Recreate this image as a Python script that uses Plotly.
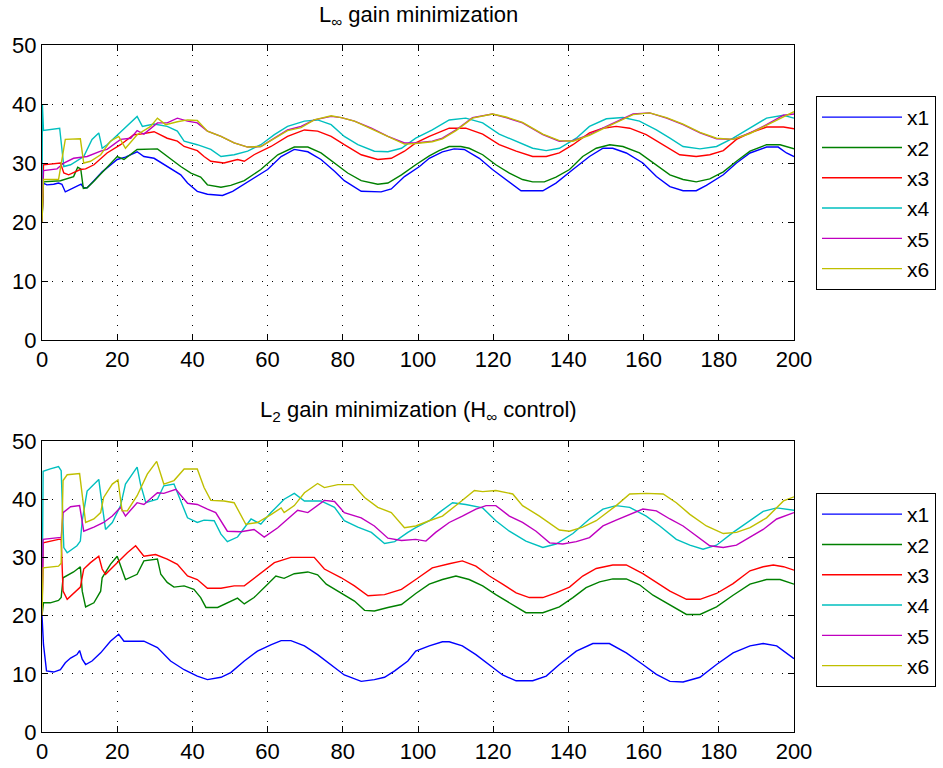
import plotly.graph_objects as go

names = ["x1", "x2", "x3", "x4", "x5", "x6"]
colors = ["#0000ff", "#008000", "#ff0000", "#00bfbf", "#bf00bf", "#bfbf00"]

# ---------- top panel: L_inf gain minimization ----------
t_top_x1 = [0, 0.3, 1.3, 3.1, 4.4, 5.3, 6.2, 7.6, 9.3, 10.4, 11.1, 12, 13.8, 16, 20, 22.2, 25.3, 27.1, 29.8, 33.3, 36.9, 38.7, 41.3, 44, 48, 50.7, 54.7, 60, 63.6, 67.1, 70.7, 74.2, 77.8, 80.4, 84.9, 90.2, 92.9, 96.4, 100.4, 103, 106.5, 109.6, 112.3, 116.3, 119.8, 123.4, 127.4, 133.2, 136.7, 141.2, 145.6, 149.2, 151.8, 155.4, 159.8, 163.4, 167, 170.5, 174, 176.7, 181.2, 184.7, 188.3, 192.7, 195.8, 198, 200]
v_top_x1 = [20, 26.6, 26.3, 26.4, 26.6, 26.4, 25.1, 25.5, 26.0, 26.4, 25.8, 25.8, 27.0, 28.5, 30.6, 31.0, 31.9, 31.1, 30.8, 29.4, 28.0, 26.6, 25.2, 24.7, 24.5, 25.2, 26.8, 28.9, 31.1, 32.3, 31.9, 30.6, 28.6, 27.0, 25.2, 25.1, 25.6, 27.7, 29.4, 30.8, 31.9, 32.4, 32.3, 30.8, 28.9, 27.2, 25.3, 25.3, 26.6, 28.9, 31.1, 32.5, 32.5, 31.7, 30.0, 27.7, 26.0, 25.3, 25.3, 26.2, 28.0, 30.0, 31.7, 32.7, 32.7, 31.7, 31.1]

t_top_x2 = [0, 0.4, 4.9, 8.4, 9.5, 10.3, 11, 12, 13.8, 16.4, 20, 21.8, 25.3, 30.7, 33.3, 36.9, 39.6, 42.2, 44, 47.6, 50.2, 53.8, 58.2, 62.7, 67.1, 70.7, 74.2, 77.8, 81.3, 84.9, 89.3, 92, 95.6, 99.4, 103, 105.6, 108.3, 111.4, 113.6, 117.2, 120.7, 124.3, 127.8, 130.5, 133.6, 136.7, 140.3, 143.8, 147.4, 151, 154.5, 158.9, 163.4, 167, 170.5, 174, 177.6, 181.2, 184.7, 188.3, 192.7, 196.3, 200]
v_top_x2 = [20, 26.8, 27.0, 27.7, 29.3, 29.0, 25.7, 25.8, 26.9, 28.6, 31.1, 30.6, 32.3, 32.4, 31.1, 29.4, 28.3, 27.6, 26.3, 25.9, 26.2, 27.0, 28.9, 31.4, 32.7, 32.7, 31.7, 30.0, 28.3, 27.0, 26.4, 26.6, 28.0, 29.7, 31.2, 32.1, 32.8, 32.8, 32.5, 31.4, 29.7, 28.3, 27.2, 26.8, 26.8, 27.6, 28.9, 31.1, 32.5, 33.1, 32.8, 31.7, 29.7, 28.0, 27.2, 26.8, 27.3, 28.5, 30.3, 32.0, 33.1, 33.1, 32.4]

t_top_x3 = [0, 0.4, 4.9, 5.8, 7.1, 10.2, 11.6, 13.8, 17.3, 20.9, 24.4, 26.2, 29.8, 33.3, 36, 37.8, 41.3, 43.1, 44.9, 48.4, 52, 53.8, 56.4, 60.9, 65.3, 69.8, 73.3, 76.9, 80.4, 84.9, 89.3, 92.9, 96.4, 99.4, 103, 106.5, 108.3, 112.7, 117.2, 121.6, 126.1, 130.5, 134.1, 137.6, 141.2, 145.6, 149.2, 152.7, 156.3, 160.7, 165.2, 169.6, 174, 177.6, 181.2, 184.7, 188.3, 192.7, 197.2, 200]
v_top_x3 = [20, 29.7, 30.0, 28.3, 28.0, 28.9, 29.0, 29.7, 31.7, 33.1, 34.8, 34.9, 35.3, 34.2, 33.7, 32.8, 32.1, 31.1, 30.3, 30.0, 30.6, 30.3, 31.4, 32.8, 34.5, 35.6, 35.4, 34.5, 33.1, 31.4, 30.6, 30.8, 32.0, 33.4, 34.5, 35.4, 35.9, 35.9, 34.9, 33.1, 32.0, 31.1, 31.1, 31.7, 33.1, 35.1, 35.9, 36.2, 35.9, 34.8, 33.1, 31.4, 31.1, 31.4, 32.1, 34.0, 35.1, 36.1, 36.1, 35.8]

t_top_x4 = [0, 0.1, 0.4, 4, 4.7, 5.8, 7.6, 11.1, 13.3, 15.1, 16, 17.3, 20.9, 23.1, 25.3, 26.7, 29.8, 33.3, 36, 37.8, 41.3, 44.9, 47.6, 51.1, 54.7, 58.2, 61.8, 65.3, 69.8, 73.3, 76.9, 80.4, 84, 88.4, 92, 95.6, 99.4, 103.8, 108.3, 112.7, 117.2, 121.6, 126.1, 130.5, 134.1, 137.6, 142.1, 145.6, 150.1, 154.5, 158.9, 163.4, 167, 170.5, 175, 179.4, 183.8, 188.3, 192.7, 197.2, 200]
v_top_x4 = [20, 40.0, 35.5, 35.9, 35.9, 29.4, 29.7, 31.1, 34.0, 35.1, 32.5, 33.1, 35.3, 36.5, 37.9, 36.2, 36.6, 36.2, 35.4, 33.7, 33.1, 32.3, 31.1, 31.4, 32.0, 33.1, 34.8, 36.2, 37.1, 37.3, 36.5, 34.5, 33.1, 32.0, 31.9, 32.5, 34.2, 35.6, 37.3, 37.6, 36.8, 34.9, 33.7, 32.5, 32.1, 32.5, 34.2, 36.2, 37.5, 37.7, 37.1, 35.6, 34.2, 32.8, 32.4, 32.8, 34.2, 35.9, 37.6, 38.1, 37.6]

t_top_x5 = [0, 0.4, 4, 5.8, 8.4, 12, 15.6, 17.3, 20.9, 23.6, 25.3, 27.1, 30.7, 33.3, 36, 38.7, 41.3, 44, 47.6, 51.1, 54.7, 58.2, 61.8, 65.3, 68.9, 72.4, 76.9, 79.6, 83.1, 87.6, 92, 96.4, 99.4, 103.8, 106.5, 110.1, 114.5, 119.8, 123.4, 127.8, 133.2, 137.6, 141.2, 145.6, 150.1, 153.6, 157.2, 161.6, 166.1, 170.5, 175, 179.4, 183.8, 188.3, 192.7, 197.2, 200]
v_top_x5 = [20, 28.7, 29.0, 30.0, 30.8, 31.1, 32.0, 32.3, 34.0, 34.2, 35.5, 34.9, 36.8, 36.8, 37.6, 37.1, 36.8, 35.4, 34.5, 33.4, 32.7, 32.8, 34.2, 35.6, 36.2, 37.3, 37.9, 37.7, 37.1, 35.9, 34.5, 33.4, 33.4, 33.7, 34.2, 35.6, 37.7, 38.3, 37.7, 36.8, 34.8, 33.7, 33.8, 34.8, 36.2, 37.3, 38.3, 38.5, 37.6, 36.5, 35.1, 34.1, 34.0, 35.1, 36.5, 38.1, 38.3]

t_top_x6 = [0, 0.4, 4.4, 5.3, 6.2, 10.2, 11.1, 12.9, 15.6, 18.2, 20.4, 22.2, 25.3, 28.9, 30.7, 32.9, 36, 38.7, 41.3, 44, 47.6, 51.1, 54.7, 58.2, 61.8, 65.3, 68.9, 72.4, 76.9, 79.6, 83.1, 87.6, 92, 96.4, 99.4, 103.8, 106.5, 110.1, 114.5, 119.8, 123.4, 127.8, 133.2, 137.6, 141.2, 145.6, 150.1, 153.6, 157.2, 161.6, 166.1, 170.5, 175, 179.4, 183.8, 188.3, 192.7, 197.2, 200]
v_top_x6 = [20, 27.2, 27.2, 30.6, 34.0, 34.1, 30.0, 30.3, 31.4, 33.7, 34.5, 32.5, 34.8, 36.2, 37.6, 36.5, 37.0, 37.3, 37.2, 35.4, 34.5, 33.4, 32.7, 32.8, 34.2, 35.5, 36.0, 37.3, 38.0, 37.7, 37.1, 35.8, 34.5, 33.2, 33.3, 33.6, 34.1, 35.5, 37.6, 38.3, 37.8, 36.9, 34.9, 33.8, 33.7, 34.7, 36.1, 37.2, 38.2, 38.5, 37.7, 36.6, 35.2, 34.2, 34.0, 35.0, 36.4, 37.8, 38.7]

# ---------- bottom panel: L2 gain minimization (H_inf control) ----------
t_bot_x1 = [0, 0.4, 1.2, 3.1, 4.9, 6.2, 7.6, 9.3, 10, 10.7, 11.6, 13.3, 15.6, 18.2, 20.4, 21.8, 27.1, 30.7, 34.2, 37.8, 41.3, 44, 47.6, 50.2, 53.8, 57.3, 61, 63.6, 66.2, 69.8, 73.3, 76.9, 80.4, 84.9, 88.4, 91.1, 93.8, 97.3, 99.4, 103, 106.5, 108.3, 111.8, 115.4, 119, 122.5, 126.1, 130.5, 134.1, 137.6, 142.1, 146.5, 150.9, 155.4, 159.8, 163.4, 167, 170.5, 175, 179.4, 183.8, 188.3, 191.8, 195.4, 200]
v_bot_x1 = [20, 15.0, 10.5, 10.3, 10.7, 11.9, 12.7, 13.3, 14.0, 12.5, 11.6, 12.2, 13.6, 15.6, 16.8, 15.6, 15.6, 14.5, 12.2, 10.7, 9.6, 9.0, 9.4, 10.2, 12.2, 13.9, 15.0, 15.7, 15.7, 14.8, 13.3, 11.6, 9.8, 8.7, 9.0, 9.4, 10.5, 12.2, 13.9, 14.8, 15.5, 15.5, 14.8, 13.3, 11.6, 9.8, 8.8, 8.8, 9.6, 11.6, 13.9, 15.2, 15.2, 13.6, 11.6, 9.9, 8.7, 8.6, 9.4, 11.6, 13.6, 14.8, 15.2, 14.8, 12.6]

t_bot_x2 = [0, 0.4, 2.2, 4.4, 5.1, 5.6, 8.4, 10.2, 10.7, 11.6, 13.8, 15.6, 16, 18.2, 20, 21.3, 22.2, 25.3, 27.1, 30.7, 31.6, 33.3, 35.1, 37.8, 40.4, 42.2, 43.6, 46.7, 49.3, 52, 53.8, 56.4, 60, 62.2, 64.4, 67.1, 70.7, 73.3, 75.6, 79.6, 83.1, 85.8, 88.4, 92, 95.6, 99.4, 103, 106.5, 110.1, 113.6, 117.2, 120.7, 124.3, 128.7, 133.2, 137.6, 141.2, 144.7, 148.3, 151.8, 155.4, 158.9, 162.5, 167, 171.4, 175, 179.4, 183.8, 188.3, 192.7, 196.3, 200]
v_bot_x2 = [20, 22.2, 22.2, 22.6, 23.1, 26.5, 27.5, 28.4, 24.2, 21.5, 22.2, 24.2, 26.5, 28.8, 30.2, 28.0, 26.2, 27.1, 29.4, 29.7, 27.1, 25.7, 24.9, 25.1, 24.5, 23.1, 21.4, 21.4, 22.2, 23.0, 22.0, 23.1, 25.4, 26.8, 26.4, 27.2, 27.5, 27.0, 25.4, 23.9, 22.5, 20.9, 20.8, 21.4, 21.9, 23.8, 25.4, 26.2, 26.8, 26.2, 25.1, 23.6, 22.2, 20.5, 20.5, 21.5, 23.1, 24.8, 25.8, 26.3, 26.3, 25.3, 23.5, 21.8, 20.2, 20.2, 21.5, 23.5, 25.4, 26.2, 26.2, 25.4]

t_bot_x3 = [0, 0.3, 4.4, 5.1, 5.6, 6.7, 10.2, 11.1, 12.9, 15.1, 16, 16.9, 20, 22.7, 24.9, 27.1, 30.2, 33.3, 36, 38.7, 41.3, 44, 47.6, 51.1, 53.8, 57.3, 61.8, 66.2, 72.4, 75.1, 79.6, 83.1, 86.7, 91.1, 95.6, 99.4, 103.8, 108.3, 111.8, 115.4, 119, 122.5, 126.1, 129.6, 133.2, 136.7, 140.3, 143.8, 147.4, 151.8, 155.4, 159.8, 163.4, 167, 171.4, 175, 179.4, 183.8, 188.3, 191.8, 194.5, 197.2, 200]
v_bot_x3 = [20, 32.5, 33.1, 33.1, 24.2, 22.8, 24.9, 28.0, 29.1, 30.2, 28.0, 27.1, 29.1, 30.8, 32.0, 30.2, 30.5, 29.7, 28.8, 26.8, 26.2, 24.7, 24.7, 25.1, 25.1, 26.8, 29.1, 30.0, 30.0, 28.0, 26.5, 25.1, 23.4, 23.6, 24.5, 26.2, 28.2, 28.9, 29.4, 28.5, 26.8, 25.4, 23.9, 23.1, 23.1, 23.9, 24.9, 26.8, 28.1, 28.7, 28.7, 27.2, 25.7, 24.2, 22.8, 22.8, 23.8, 25.5, 27.7, 28.4, 28.7, 28.4, 27.8]

t_bot_x4 = [0, 0.1, 0.3, 2.2, 4.4, 5.1, 5.8, 6.7, 9.3, 10.2, 10.7, 12, 13.8, 15.1, 15.6, 16.9, 18.7, 20.9, 22.2, 25.3, 26.2, 27.6, 30.7, 32.4, 35.1, 36.9, 38.7, 41.3, 43.1, 45.8, 47.6, 49.3, 52, 55.6, 58.2, 60.9, 64.4, 67.1, 69.8, 74.2, 77.8, 80.4, 84, 87.6, 91.1, 93.8, 97.3, 99.4, 103, 105.6, 109.2, 112.7, 117.2, 120.7, 124.3, 128.7, 133.2, 136.7, 141.2, 145.6, 149.2, 152.7, 156.3, 160.7, 164.3, 168.7, 172.3, 175.8, 179.4, 183.8, 188.3, 191.8, 195.4, 200]
v_bot_x4 = [20, 42.0, 44.8, 45.2, 45.6, 44.9, 31.7, 30.8, 32.0, 32.8, 36.3, 41.4, 42.6, 43.4, 40.9, 34.8, 36.0, 38.9, 42.6, 45.5, 42.6, 39.4, 40.0, 42.3, 42.6, 39.7, 36.8, 36.0, 36.4, 36.3, 34.0, 32.7, 33.5, 36.6, 35.7, 37.7, 40.0, 41.0, 39.7, 39.7, 38.6, 36.3, 35.2, 34.3, 32.4, 32.7, 34.3, 35.1, 36.3, 37.7, 39.4, 39.1, 38.5, 36.3, 34.5, 32.8, 31.7, 32.3, 34.1, 36.6, 38.3, 38.9, 38.6, 37.1, 35.4, 33.1, 32.1, 31.4, 32.1, 34.3, 36.3, 37.9, 38.5, 38.1]

t_bot_x5 = [0, 0.3, 4.4, 5.1, 5.6, 7.6, 10.0, 11.1, 13.8, 16.4, 18.7, 20.9, 22.2, 25.3, 27.1, 30.7, 32.4, 35.6, 38.7, 41.3, 44, 46.2, 49.3, 52.9, 56.4, 59.1, 62.7, 68, 70.7, 75.1, 77.8, 80.4, 84.9, 88.4, 92, 95.6, 99.4, 102.1, 104.7, 108.3, 111.8, 115.4, 118.1, 120.7, 124.3, 127.8, 131.4, 135, 138.5, 142.1, 145.6, 149.2, 152.7, 156.3, 159.8, 163.4, 167, 170.5, 174, 177.6, 181.2, 184.7, 188.3, 191.8, 195.4, 200]
v_bot_x5 = [20, 33.1, 33.4, 33.4, 37.7, 38.7, 38.9, 34.5, 35.2, 36.0, 37.1, 38.6, 37.1, 39.4, 39.1, 41.1, 41.0, 41.7, 39.3, 39.1, 38.3, 37.7, 34.5, 34.4, 34.8, 33.5, 35.1, 38.1, 37.7, 39.8, 39.6, 37.7, 36.8, 35.4, 33.3, 32.9, 33.1, 32.8, 34.3, 36.0, 37.1, 38.3, 38.9, 38.9, 37.1, 36.0, 34.5, 32.5, 32.3, 32.7, 33.4, 35.4, 36.4, 37.3, 38.3, 38.0, 36.6, 35.4, 33.7, 32.0, 31.7, 32.1, 33.5, 34.8, 36.6, 37.7]

t_bot_x6 = [0, 0.3, 4.4, 5.1, 5.6, 6.7, 10, 10.7, 11.6, 13.8, 15.6, 16.4, 18.7, 20.2, 21.3, 22.7, 25.3, 28, 30.5, 32.4, 35.1, 37.8, 41.3, 43.1, 44.9, 48.4, 51.1, 54.2, 57.3, 61, 63.6, 64.4, 67.1, 69.8, 73.3, 75.1, 78.7, 82.7, 85.8, 89.3, 92.9, 96.4, 99.4, 103, 106.5, 111, 115, 117.2, 120.7, 125.2, 127.8, 132.3, 137.6, 140.3, 143.8, 147.4, 152.7, 156.3, 160.7, 165.2, 168.7, 172.3, 176.7, 181.2, 184.7, 188.3, 192.7, 197.2, 200]
v_bot_x6 = [20, 28.2, 28.5, 29.0, 43.2, 44.2, 44.4, 40.3, 36.0, 36.6, 37.7, 40.3, 42.6, 43.3, 38.0, 38.0, 40.6, 44.3, 46.5, 42.6, 43.2, 45.2, 45.2, 42.0, 39.8, 39.7, 39.4, 35.7, 36.0, 37.4, 38.5, 37.7, 38.9, 41.1, 42.7, 42.0, 42.5, 42.5, 40.3, 38.6, 37.7, 35.1, 35.4, 36.3, 37.1, 39.4, 41.5, 41.3, 41.5, 40.9, 38.9, 37.1, 34.7, 34.5, 35.2, 36.3, 38.9, 40.9, 41.0, 40.9, 39.4, 37.4, 35.4, 34.1, 34.3, 35.1, 36.8, 39.7, 40.4]

top_t = [t_top_x1, t_top_x2, t_top_x3, t_top_x4, t_top_x5, t_top_x6]
top_v = [v_top_x1, v_top_x2, v_top_x3, v_top_x4, v_top_x5, v_top_x6]
bot_t = [t_bot_x1, t_bot_x2, t_bot_x3, t_bot_x4, t_bot_x5, t_bot_x6]
bot_v = [v_bot_x1, v_bot_x2, v_bot_x3, v_bot_x4, v_bot_x5, v_bot_x6]

FONT = "Liberation Sans, Arial, Helvetica, sans-serif"
W, H = 943, 768

fig = go.Figure()
for i in range(6):
    fig.add_trace(go.Scatter(x=top_t[i], y=top_v[i], mode="lines", name=names[i],
                             line=dict(color=colors[i], width=1.4),
                             xaxis="x", yaxis="y", legend="legend"))
for i in range(6):
    fig.add_trace(go.Scatter(x=bot_t[i], y=bot_v[i], mode="lines", name=names[i],
                             line=dict(color=colors[i], width=1.4),
                             xaxis="x2", yaxis="y2", legend="legend2"))

def px_x(p):
    return p / W

def px_y(p):
    return 1 - p / H

axis_common = dict(
    showline=True, linecolor="black", linewidth=1, mirror="ticks",
    ticks="inside", ticklen=6, tickcolor="black", tickwidth=1,
    showgrid=True, gridcolor="black", gridwidth=1, griddash="1px,9px",
    zeroline=False, tickfont=dict(family=FONT, size=22, color="black"),
    automargin=False,
)

legend_common = dict(
    xanchor="left", yanchor="top", bordercolor="black", borderwidth=1,
    bgcolor="white", font=dict(family=FONT, size=21, color="black"),
    itemwidth=80,
)

fig.update_layout(
    width=W, height=H,
    margin=dict(l=0, r=0, t=0, b=0),
    paper_bgcolor="white", plot_bgcolor="white",
    font=dict(family=FONT, size=22, color="black"),
    xaxis=dict(domain=[px_x(42), px_x(794)], range=[0, 200], dtick=20, tick0=0,
               anchor="y", **axis_common),
    yaxis=dict(domain=[px_y(340), px_y(45)], range=[0, 50], dtick=10, tick0=0,
               anchor="x", **axis_common),
    xaxis2=dict(domain=[px_x(42), px_x(794)], range=[0, 200], dtick=20, tick0=0,
                anchor="y2", **axis_common),
    yaxis2=dict(domain=[px_y(732), px_y(441)], range=[0, 50], dtick=10, tick0=0,
                anchor="x2", **axis_common),
    legend=dict(x=px_x(816), y=px_y(96), **legend_common),
    legend2=dict(x=px_x(816), y=px_y(493), **legend_common),
    annotations=[
        dict(text="L<sub>∞</sub> gain minimization", x=px_x(418), y=px_y(16),
             xref="paper", yref="paper", xanchor="center", yanchor="middle",
             showarrow=False, font=dict(family=FONT, size=22, color="black")),
        dict(text="L<sub>2</sub> gain minimization (H<sub>∞</sub> control)",
             x=px_x(418), y=px_y(411), xref="paper", yref="paper",
             xanchor="center", yanchor="middle", showarrow=False,
             font=dict(family=FONT, size=22, color="black")),
    ],
)

fig.write_html("out.html")
